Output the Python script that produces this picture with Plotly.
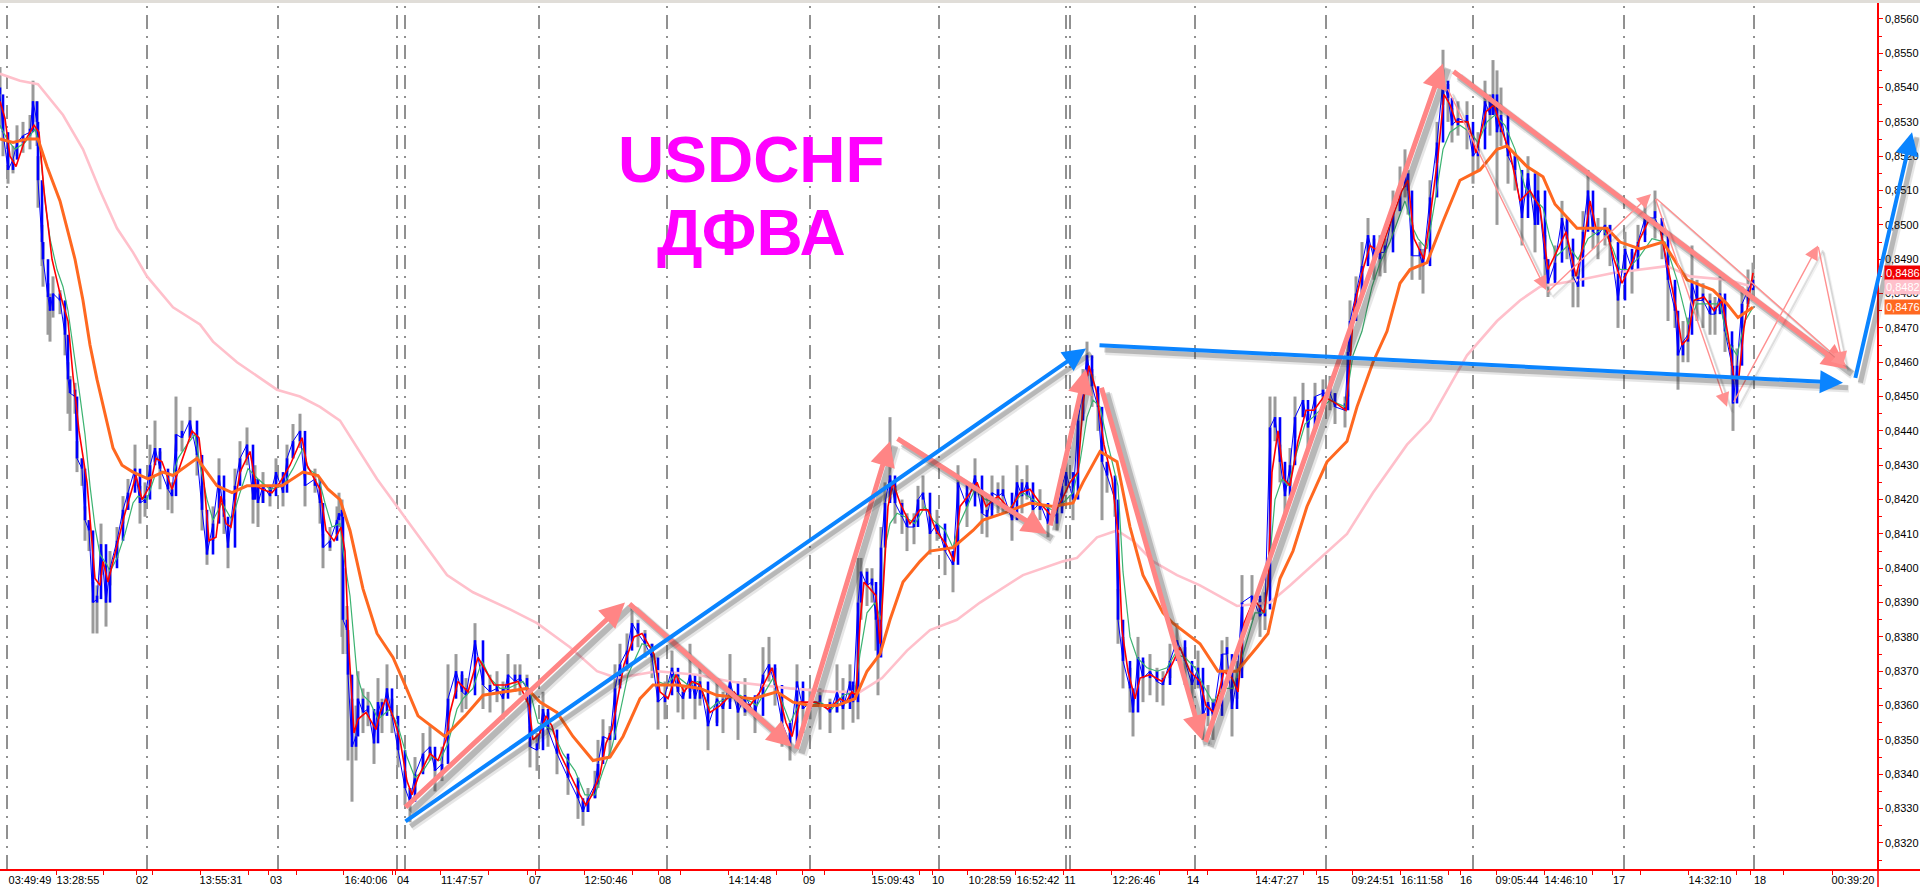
import numpy as np
import plotly.graph_objects as go

bar_x = [0,3,8,13,17,23,30,33,37,38,
42,43,48,50,53,60,65,68,70,75,
77,82,85,89,93,97,101,106,110,117,
123,128,135,140,145,150,155,160,168,172,
176,182,190,197,202,207,213,219,224,228,
235,240,247,253,255,258,263,270,276,283,
287,293,300,305,315,320,323,330,337,339,
342,343,347,348,352,356,358,363,368,374,
378,382,387,392,398,405,410,415,423,430,
435,442,448,456,462,466,475,483,490,497,
503,508,515,520,527,530,537,543,548,557,
568,578,583,588,595,598,603,610,615,620,
627,632,638,645,652,658,665,672,678,683,
690,695,700,708,717,723,730,738,745,755,
763,769,775,782,790,797,803,810,820,830,
837,843,850,853,858,861,867,872,876,878,
881,885,890,895,902,907,914,918,923,930,
937,945,953,958,967,975,982,987,992,998,
1003,1012,1017,1022,1027,1033,1040,1048,1057,1062,
1066,1073,1078,1083,1087,1092,1098,1102,1107,1115,
1118,1123,1130,1133,1138,1143,1150,1157,1163,1170,
1177,1185,1192,1198,1203,1208,1213,1222,1227,1232,
1237,1242,1252,1260,1265,1270,1275,1280,1285,1290,
1295,1303,1308,1315,1323,1330,1335,1345,1348,1350,
1356,1362,1368,1374,1380,1385,1393,1400,1405,1408,
1412,1420,1423,1430,1437,1443,1448,1452,1458,1467,
1473,1478,1485,1490,1493,1497,1501,1508,1515,1522,
1528,1535,1538,1545,1548,1555,1562,1567,1573,1578,
1583,1588,1593,1598,1605,1610,1618,1625,1632,1638,
1645,1655,1662,1668,1675,1678,1683,1688,1692,1697,
1703,1710,1715,1720,1725,1732,1733,1737,1742,1748,
1753]

close_pips = [8538,8527,8516,8519,8524,8526,8527,8536,8530,8513,
8495,8490,8479,8475,8480,8478,8468,8455,8451,8450,
8432,8429,8414,8411,8390,8391,8407,8390,8400,8408,
8417,8422,8429,8419,8420,8430,8435,8429,8423,8421,
8439,8438,8443,8433,8417,8404,8413,8427,8415,8406,
8424,8432,8436,8420,8426,8419,8424,8421,8428,8422,
8432,8437,8440,8424,8426,8419,8406,8408,8414,8416,
8415,8385,8382,8369,8348,8351,8362,8358,8359,8349,
8361,8357,8365,8357,8347,8336,8332,8340,8346,8348,
8341,8343,8362,8370,8364,8363,8379,8366,8364,8365,
8362,8369,8367,8368,8365,8348,8347,8359,8353,8346,
8339,8333,8329,8333,8337,8343,8351,8350,8365,8372,
8376,8384,8381,8378,8374,8361,8363,8371,8364,8362,
8369,8362,8367,8354,8362,8359,8367,8358,8363,8357,
8369,8372,8366,8355,8349,8367,8359,8361,8361,8358,
8364,8359,8367,8361,8390,8399,8395,8396,8385,8374,
8406,8419,8427,8419,8415,8412,8412,8420,8422,8410,
8413,8405,8401,8425,8418,8427,8416,8415,8422,8421,
8422,8414,8425,8421,8425,8417,8419,8413,8416,8424,
8428,8420,8443,8452,8462,8453,8447,8431,8427,8420,
8385,8373,8365,8358,8374,8368,8370,8367,8366,8373,
8379,8373,8366,8371,8357,8361,8357,8375,8375,8359,
8368,8390,8392,8386,8388,8441,8444,8431,8421,8430,
8444,8449,8441,8450,8451,8451,8447,8446,8463,8472,
8480,8488,8497,8490,8492,8492,8504,8511,8515,8510,
8491,8491,8488,8508,8524,8542,8537,8529,8531,8530,
8520,8522,8536,8532,8538,8527,8532,8520,8516,8502,
8515,8500,8510,8490,8483,8489,8502,8496,8485,8482,
8498,8510,8498,8497,8500,8495,8478,8493,8487,8495,
8502,8502,8497,8484,8475,8462,8466,8468,8483,8478,
8478,8474,8474,8480,8469,8459,8448,8459,8477,8481,
8484]

high_pips = [8546,8532,8521,8523,8529,8530,8532,8542,8536,8520,
8500,8495,8483,8480,8485,8481,8473,8460,8456,8454,
8437,8432,8418,8414,8396,8395,8413,8395,8405,8412,
8421,8426,8436,8424,8425,8436,8443,8434,8428,8425,
8450,8443,8447,8438,8424,8408,8418,8432,8420,8411,
8429,8437,8441,8425,8430,8424,8428,8424,8432,8426,
8436,8442,8445,8428,8429,8423,8410,8412,8418,8422,
8420,8400,8389,8378,8362,8360,8370,8365,8364,8355,
8368,8362,8372,8362,8352,8341,8336,8345,8352,8354,
8345,8348,8372,8375,8369,8368,8384,8372,8369,8370,
8367,8375,8372,8372,8369,8354,8352,8364,8358,8350,
8345,8337,8332,8336,8341,8350,8356,8354,8372,8378,
8381,8389,8385,8382,8378,8366,8367,8376,8369,8366,
8378,8366,8372,8359,8367,8364,8375,8363,8368,8361,
8377,8380,8371,8361,8352,8372,8364,8365,8365,8362,
8372,8368,8372,8366,8403,8403,8400,8400,8390,8382,
8412,8425,8444,8424,8420,8416,8416,8424,8427,8416,
8417,8410,8405,8430,8422,8432,8420,8421,8427,8425,
8427,8418,8430,8426,8430,8422,8423,8417,8420,8429,
8432,8425,8448,8458,8466,8458,8451,8436,8431,8425,
8394,8380,8371,8363,8380,8373,8375,8371,8370,8378,
8384,8377,8370,8376,8363,8366,8362,8379,8380,8363,
8373,8398,8398,8391,8393,8450,8450,8436,8425,8435,
8450,8454,8445,8454,8455,8456,8451,8450,8468,8478,
8485,8495,8502,8496,8497,8496,8510,8517,8522,8516,
8500,8495,8493,8513,8530,8551,8541,8534,8536,8536,
8526,8527,8542,8538,8548,8545,8540,8527,8521,8508,
8520,8506,8515,8497,8490,8494,8507,8501,8492,8487,
8504,8516,8503,8502,8505,8500,8484,8498,8492,8500,
8507,8510,8502,8490,8482,8470,8472,8473,8494,8484,
8483,8480,8479,8485,8476,8465,8456,8464,8482,8487,
8489]

low_pips = [8528,8520,8512,8515,8520,8521,8522,8530,8523,8505,
8488,8482,8468,8466,8473,8474,8462,8445,8440,8445,
8428,8424,8408,8405,8381,8381,8398,8383,8395,8403,
8413,8417,8424,8413,8415,8424,8431,8423,8417,8416,
8434,8434,8438,8427,8411,8401,8408,8422,8410,8400,
8420,8428,8430,8413,8420,8412,8419,8418,8424,8418,
8428,8432,8435,8418,8422,8413,8400,8405,8410,8412,
8380,8375,8375,8344,8332,8344,8356,8352,8354,8343,
8354,8352,8360,8352,8342,8331,8326,8335,8341,8344,
8335,8338,8353,8364,8358,8359,8375,8359,8358,8361,
8356,8364,8364,8363,8361,8342,8341,8354,8348,8340,
8334,8327,8325,8329,8333,8336,8347,8345,8358,8366,
8370,8379,8377,8374,8368,8353,8356,8366,8358,8356,
8364,8356,8360,8347,8355,8352,8361,8350,8357,8352,
8363,8367,8360,8348,8344,8355,8352,8356,8353,8352,
8358,8353,8362,8355,8356,8385,8389,8390,8376,8363,
8395,8412,8420,8413,8410,8405,8407,8415,8417,8404,
8408,8398,8393,8418,8412,8422,8410,8409,8417,8416,
8416,8408,8420,8416,8420,8412,8414,8409,8411,8418,
8422,8414,8436,8445,8456,8447,8440,8414,8422,8415,
8378,8365,8358,8351,8368,8361,8363,8361,8360,8368,
8374,8366,8361,8365,8350,8354,8350,8369,8369,8351,
8362,8380,8385,8380,8382,8420,8437,8425,8415,8424,
8438,8444,8435,8444,8447,8446,8442,8441,8450,8462,
8473,8480,8490,8484,8485,8486,8498,8504,8508,8503,
8484,8484,8480,8500,8518,8535,8530,8524,8526,8522,
8512,8516,8528,8526,8532,8500,8523,8512,8510,8494,
8508,8492,8504,8482,8479,8484,8496,8490,8476,8476,
8492,8503,8493,8490,8494,8488,8470,8487,8480,8490,
8497,8496,8490,8472,8470,8452,8460,8460,8476,8472,
8470,8468,8468,8475,8463,8455,8440,8450,8470,8476,
8478]

red_x = [0,5,10,16,24,34,39,44,52,60,
68,73,79,87,95,100,103,108,114,124,
136,142,150,156,162,172,178,192,199,204,
209,216,221,226,231,240,250,256,262,272,
280,290,302,307,320,326,334,341,345,349,
354,358,366,376,380,386,394,400,407,412,
418,430,438,446,450,458,468,478,486,494,
506,518,529,533,540,546,552,560,570,580,
586,592,600,606,612,618,624,634,642,654,
660,668,676,684,692,700,710,720,734,742,
750,760,772,780,786,792,800,806,816,828,
840,846,852,856,860,864,876,880,884,888,
893,900,910,920,928,936,946,954,960,968,
977,986,998,1010,1020,1030,1040,1052,1062,1070,
1078,1083,1089,1096,1104,1112,1118,1122,1128,1135,
1140,1150,1162,1172,1180,1190,1200,1206,1214,1224,
1232,1238,1244,1254,1264,1268,1272,1278,1284,1290,
1298,1306,1314,1324,1336,1346,1350,1354,1362,1370,
1380,1392,1402,1408,1414,1424,1430,1438,1444,1450,
1456,1468,1476,1486,1494,1500,1510,1520,1530,1540,
1548,1558,1566,1576,1584,1590,1596,1606,1614,1622,
1632,1640,1650,1660,1668,1676,1682,1688,1694,1704,
1714,1722,1728,1734,1739,1744,1753]
red_pips = [8536,8531,8520,8517,8524,8529,8527,8510,8490,8480,
8472,8456,8440,8425,8397,8395,8402,8396,8403,8415,
8427,8420,8424,8432,8431,8423,8428,8440,8438,8425,
8408,8409,8421,8413,8412,8428,8434,8424,8423,8422,
8425,8430,8438,8430,8423,8411,8408,8412,8405,8376,
8352,8356,8358,8353,8358,8362,8356,8350,8338,8334,
8339,8346,8344,8350,8358,8367,8364,8374,8370,8366,
8366,8367,8360,8350,8352,8357,8354,8346,8340,8334,
8331,8334,8340,8349,8353,8363,8372,8380,8381,8375,
8364,8362,8369,8364,8367,8366,8358,8360,8364,8361,
8360,8364,8371,8362,8355,8351,8361,8361,8361,8359,
8362,8361,8364,8363,8384,8396,8392,8378,8400,8418,
8425,8419,8413,8417,8417,8411,8407,8402,8418,8421,
8425,8418,8421,8417,8422,8423,8419,8415,8420,8425,
8428,8448,8459,8452,8436,8426,8410,8382,8370,8362,
8368,8369,8367,8372,8377,8370,8367,8360,8358,8370,
8368,8364,8384,8391,8387,8395,8428,8440,8426,8424,
8437,8446,8446,8450,8448,8446,8460,8476,8486,8494,
8492,8502,8510,8513,8496,8490,8502,8520,8538,8535,
8530,8530,8521,8533,8535,8529,8521,8507,8510,8505,
8487,8493,8498,8485,8495,8507,8499,8499,8490,8483,
8489,8496,8502,8499,8488,8476,8465,8467,8478,8479,
8475,8478,8468,8455,8456,8470,8486]

green_x = [0,7,15,25,35,40,45,50,57,63,68,75,80,85,90,95,100,107,110,117,125,133,138,147,155,162,173,178,187,195,200,207,213,222,232,240,248,258,270,283,293,303,308,318,325,332,340,
343,350,357,363,370,378,390,398,407,415,423,432,440,448,457,463,473,482,490,500,508,523,530,538,552,563,575,585,595,603,612,620,628,642,652,658,667,675,688,698,710,718,727,740,757,773,790,
800,810,820,832,843,855,860,867,875,881,885,890,897,905,915,925,933,945,953,958,967,975,985,1000,1008,1023,1038,1052,1063,1073,1080,1087,1093,1100,1108,1118,1123,1130,1137,1147,1157,1167,1175,1185,1195,1203,1213,1223,1233,1243,1255,1265,
1270,1275,1282,1288,1297,1305,1313,1330,1345,1353,1362,1372,1380,1390,1405,1413,1418,1427,1435,1443,1450,1460,1470,1478,1487,1495,1505,1515,1525,1533,1543,1550,1557,1568,1578,1588,1603,1613,1620,1628,1640,1652,1665,1677,1688,1697,1710,1720,1728,1737,1745,1753]
green_pips = [8529,8525,8522,8524,8528,8522,8507,8496,8487,8482,8475,8461,8450,8439,8424,8412,8404,8401,8399,8403,8410,8419,8421,8420,8427,8428,8427,8432,8436,8439,8430,8420,8414,8419,8414,8422,8429,8426,8423,8424,8429,8435,8429,8427,8419,8412,8413,
8405,8392,8369,8363,8361,8356,8359,8354,8345,8339,8341,8345,8344,8349,8359,8362,8365,8373,8368,8365,8365,8367,8364,8355,8353,8346,8341,8334,8334,8341,8348,8358,8369,8378,8377,8367,8366,8369,8366,8367,8359,8361,8362,8363,8360,8368,8355,
8361,8360,8361,8359,8363,8364,8375,8387,8390,8385,8406,8413,8416,8415,8413,8418,8414,8411,8406,8412,8418,8423,8420,8419,8417,8422,8419,8417,8419,8422,8431,8444,8449,8447,8436,8424,8399,8380,8374,8371,8370,8371,8375,8374,8371,8366,8361,8365,8365,8375,8387,8387,
8404,8420,8426,8424,8434,8442,8444,8449,8447,8462,8469,8482,8489,8495,8507,8499,8496,8493,8507,8522,8527,8529,8527,8524,8530,8532,8529,8522,8511,8508,8505,8496,8491,8494,8490,8496,8499,8493,8487,8487,8491,8496,8495,8484,8471,8477,8477,8477,8466,8462,8472,8476]

orange_x = [0,13,27,38,47,60,68,75,83,90,97,105,113,122,133,148,163,173,197,207,217,232,247,263,282,303,318,328,340,350,363,377,393,405,418,445,465,483,503,527,540,557,573,593,610,623,640,653,677,700,717,753,777,793,810,837,855,867,880,890,903,920,930,953,973,983,1003,1030,1053,1073,1083,1100,1117,1130,1143,1163,1173,1200,1218,1237,1257,1268,1280,1293,1307,1327,1347,1357,1373,1387,1400,1410,1427,1443,1460,1480,1497,1507,1527,1543,1555,1577,1593,1607,1620,1640,1663,1687,1713,1727,1738,1753]
orange_pips = [8525,8524,8525,8525,8517,8507,8498,8490,8478,8465,8455,8445,8435,8430,8428,8426,8428,8427,8432,8428,8424,8422,8424,8424,8424,8428,8427,8423,8420,8411,8394,8381,8374,8366,8357,8351,8357,8363,8364,8365,8361,8358,8351,8344,8345,8351,8362,8366,8366,8365,8363,8362,8364,8361,8360,8360,8362,8370,8375,8385,8396,8402,8405,8406,8411,8414,8416,8419,8418,8419,8425,8434,8431,8412,8398,8387,8384,8378,8370,8370,8377,8381,8397,8405,8418,8431,8437,8447,8460,8469,8483,8487,8489,8501,8513,8516,8522,8523,8517,8514,8506,8499,8499,8499,8495,8493,8495,8484,8481,8477,8473,8476]

pink_x = [0,20,38,63,83,100,117,133,147,173,200,213,237,277,300,320,340,377,407,447,473,510,537,570,597,617,657,697,730,763,790,833,860,882,907,930,957,980,1023,1063,1077,1097,1117,1133,1153,1177,1200,1237,1270,1290,1347,1373,1407,1430,1467,1497,1520,1540,1580,1613,1640,1667,1690,1727,1753]
pink_pips = [8544,8542,8541,8532,8522,8510,8499,8492,8485,8476,8471,8466,8460,8452,8450,8447,8443,8426,8414,8398,8393,8388,8384,8377,8370,8368,8370,8369,8367,8366,8365,8364,8364,8368,8376,8382,8385,8390,8398,8402,8403,8409,8411,8408,8402,8398,8395,8389,8390,8395,8410,8422,8436,8443,8462,8472,8478,8482,8484,8486,8487,8488,8485,8484,8482]

day_lines = [7,147,278,397,405,539,667,810,939,1066,1070,1195,1326,1473,1624,1754]

x_labels = ["03:49:49","13:28:55","02","13:55:31","03","16:40:06","04","11:47:57","07","12:50:46","08","14:14:48","09","15:09:43","10","10:28:59","16:52:42","11","12:26:46","14","14:47:27","15","09:24:51","16:11:58","16","09:05:44","14:46:10","17","14:32:10","18","00:39:20"]
x_label_pos = [30,78,142,221,276,366,403,462,535,606,665,750,809,893,938,990,1038,1070,1134,1193,1277,1323,1373,1422,1466,1517,1566,1619,1710,1760,1853]
x_tick_marks = [56,103,136,152,200,248,268,296,343,392,395,440,488,527,535,584,632,658,680,728,776,802,824,872,919,932,967,1015,1063,1111,1159,1187,1207,1256,1303,1316,1352,1400,1448,1460,1496,1544,1592,1612,1640,1688,1736,1750,1783,1832]

# arrows: tail x, tail price, tip x, tip price
blue_arrows = [(404,8326,1086,8464),(1098,8465,1843,8454),(1855,8455,1912,8527)]
salmon_arrows = [(404,8330,625,8390),(628,8390,792,8348),(796,8347,890,8437),(896,8438,1047,8410),(1050,8412,1086,8458),(1101,8453,1202,8350),(1205,8349,1443,8547),(1452,8545,1847,8458)]
thin_arrows = [(1447,8540,1546,8481),(1546,8480,1651,8509),(1655,8508,1846,8459),(1655,8508,1727,8447),(1733,8448,1818,8494),(1818,8494,1843,8459)]

title_lines = ["USDCHF","ДФВА"]
title_x = [751,751]
title_pips = [8519,8497.5]

tag_texts = ["0,8486","0,8482","0,8476"]
tag_pips = [8486,8482,8476]
tag_colors = ["#F00000","#FFC0CB","#FF6820"]

P = lambda a: np.array(a, dtype=float) / 10000.0

close_arr = np.array(close_pips, dtype=float)
open_arr = np.concatenate(([close_arr[0]], close_arr[:-1]))
body_lo = np.minimum(open_arr, close_arr)
body_hi = np.maximum(np.maximum(open_arr, close_arr), body_lo + 2)

fig = go.Figure()
fig.add_trace(go.Bar(x=bar_x, y=P(high_pips) - P(low_pips), base=P(low_pips), width=3,
                     marker=dict(color="#9A9A9A", line=dict(width=0))))
fig.add_trace(go.Scatter(x=pink_x, y=P(pink_pips), mode="lines", line=dict(color="#FFC0CB", width=2.6)))
fig.add_trace(go.Scatter(x=bar_x, y=P(close_pips), mode="lines", line=dict(color="#0000FF", width=1)))
fig.add_trace(go.Bar(x=bar_x, y=P(body_hi) - P(body_lo), base=P(body_lo), width=2.6,
                     marker=dict(color="#0000FF", line=dict(width=0))))
fig.add_trace(go.Scatter(x=green_x, y=P(green_pips), mode="lines", line=dict(color="#3CB371", width=1.2)))
fig.add_trace(go.Scatter(x=red_x, y=P(red_pips), mode="lines", line=dict(color="#FF0000", width=1.6)))
fig.add_trace(go.Scatter(x=orange_x, y=P(orange_pips), mode="lines", line=dict(color="#FF6820", width=3)))

FIG_W, FIG_H = 1920, 887
BOTTOM_FRAC = (FIG_H - 869) / FIG_H

annotations = []
def add_arrow(a, color, width, size, shadow_alpha):
    x0, p0, x1, p1 = a
    for dx, dp, alpha, extra in ((6, -1.8, 0.45 * shadow_alpha, width * 0.8), (5, -1.4, shadow_alpha, width * 0.3)):
        annotations.append(dict(x=x1 + dx, y=(p1 + dp) / 1e4, ax=x0 + dx, ay=(p0 + dp) / 1e4,
                                xref="x", yref="y", axref="x", ayref="y", text="", showarrow=True,
                                arrowhead=0, arrowwidth=width + extra,
                                arrowcolor=f"rgba(40,40,40,{alpha})"))
    annotations.append(dict(x=x1, y=p1 / 1e4, ax=x0, ay=p0 / 1e4, xref="x", yref="y", axref="x", ayref="y",
                            text="", showarrow=True, arrowhead=2, arrowsize=size, arrowwidth=width,
                            arrowcolor=color, standoff=0))

for a in salmon_arrows:
    add_arrow(a, "#FF8585", 5, 1.0, 0.24)
for a in thin_arrows:
    add_arrow(a, "#FF9090", 1.4, 2.0, 0.13)
for a in blue_arrows:
    add_arrow(a, "#0A84FF", 4, 1.15, 0.24)

for t, x, p in zip(title_lines, title_x, title_pips):
    annotations.append(dict(x=x, y=p / 1e4, xref="x", yref="y", text=f"<b>{t}</b>", showarrow=False,
                            font=dict(family="Liberation Sans", size=64, color="#FF00FF")))

for t, p, c in zip(tag_texts, tag_pips, tag_colors):
    annotations.append(dict(x=1884, y=p / 1e4, xref="x", yref="y", xanchor="left", text=t, showarrow=False,
                            bgcolor=c, borderpad=1, font=dict(family="Liberation Sans", size=11, color="white")))

shapes = [dict(type="line", x0=d, x1=d, xref="x", yref="paper", y0=BOTTOM_FRAC, y1=0.996, layer="below",
               line=dict(color="#222222", width=1, dash="14px,7px,2px,7px")) for d in day_lines]
shapes.append(dict(type="rect", xref="paper", yref="paper", x0=0, x1=1, y0=0.9965, y1=1,
                   fillcolor="#E0DDD8", line=dict(width=0), layer="above"))
shapes.append(dict(type="line", xref="x", yref="paper", x0=1878, x1=1878, y0=0, y1=BOTTOM_FRAC,
                   line=dict(color="#FF0000", width=1.5)))

fig.update_layout(
    width=FIG_W, height=FIG_H, margin=dict(l=0, r=0, t=0, b=0), barmode="overlay",
    paper_bgcolor="white", plot_bgcolor="white", showlegend=False, separators=", ",
    font=dict(family="Liberation Sans", size=11, color="black"),
    annotations=annotations, shapes=shapes,
    xaxis=dict(range=[0, 1920], domain=[0, 1], showgrid=False, zeroline=False, showline=True,
               linecolor="#FF0000", linewidth=1.5, ticks="", tickmode="array", tickvals=x_label_pos,
               ticktext=x_labels, tickangle=0, tickfont=dict(size=11, family="Liberation Sans"),
               minor=dict(ticks="outside", tickmode="array", tickvals=x_tick_marks, ticklen=4,
                          tickcolor="#FF0000", tickwidth=1)),
    yaxis=dict(range=[0.83124, 0.85655], domain=[BOTTOM_FRAC, 1], anchor="free", position=1878 / 1920,
               side="right", showgrid=False, zeroline=False, showline=True, linecolor="#FF0000", linewidth=1.5,
               ticks="outside", ticklen=4, tickcolor="#FF0000", tick0=0.832, dtick=0.001, tickformat=".4f",
               tickfont=dict(size=11, family="Liberation Sans"),
               minor=dict(ticks="outside", dtick=0.0005, ticklen=3, tickcolor="#FF0000")),
)

fig.write_html("out.html", config={"displayModeBar": False},
               post_script="document.body.style.margin='0';document.body.style.overflow='hidden';")
